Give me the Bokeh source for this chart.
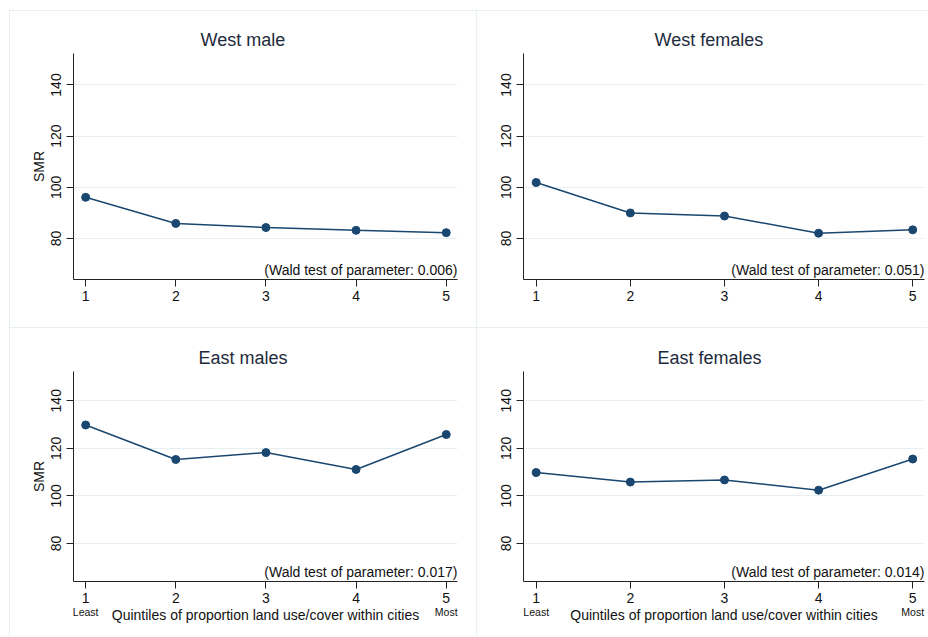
from bokeh.plotting import figure
from bokeh.layouts import column, row
from bokeh.models import Range1d, FixedTicker, Label, Spacer, LinearAxis
from bokeh.embed import file_html
from bokeh.resources import INLINE

# ---------------- data ----------------
quintiles = [1, 2, 3, 4, 5]
west_male = [96.1, 85.9, 84.3, 83.2, 82.3]
west_female = [101.9, 90.0, 88.8, 82.1, 83.4]
east_male = [129.8, 115.3, 118.2, 111.1, 125.8]
east_female = [109.8, 105.8, 106.7, 102.4, 115.5]

panel_titles = ["West male", "West females", "East males", "East females"]
wald_values = ["0.006", "0.051", "0.017", "0.014"]
y_ticks = [80, 100, 120, 140]
end_labels = ["Least", "Most"]
x_axis_title = "Quintiles of proportion land use/cover within cities"
y_axis_title = "SMR"

# ---------------- style ----------------
FONT = "Liberation Sans"
NAVY = "#1a476f"
TEXT = "#111111"
TITLE_COLOR = "#1e2b3c"
GRID = "#e8eff1"
BOX = "#e2ebed"
X_START, X_END = 0.865, 5.125
Y_START, Y_END = 64.0, 152.3


def style_axis(ax):
    ax.axis_line_color = "#222222"
    ax.axis_line_width = 1
    ax.major_tick_line_color = "#222222"
    ax.major_tick_out = 7
    ax.major_tick_in = 0
    ax.minor_tick_line_color = None
    ax.major_label_text_font = FONT
    ax.major_label_text_font_size = "14px"
    ax.major_label_text_color = TEXT
    ax.axis_label_text_font = FONT
    ax.axis_label_text_font_size = "14px"
    ax.axis_label_text_font_style = "normal"
    ax.axis_label_text_color = TEXT


def make_panel(values, title, wald, width, height, bl, br, bt, bb,
               title_offset, show_ylabel, show_xlabel):
    p = figure(width=width, height=height,
               x_range=Range1d(X_START, X_END), y_range=Range1d(Y_START, Y_END),
               output_backend="svg", toolbar_location=None,
               min_border_left=bl, min_border_right=br,
               min_border_top=bt, min_border_bottom=bb)
    p.background_fill_color = "white"
    p.border_fill_color = "white"
    p.outline_line_color = None
    p.styles = {"outline": f"1px solid {BOX}", "outline-offset": "-1px"}

    p.title.text = title
    p.title.text_font = FONT
    p.title.text_font_size = "18px"
    p.title.text_font_style = "normal"
    p.title.text_color = TITLE_COLOR
    p.title.align = "left"
    p.title.offset = title_offset
    p.title.standoff = 8

    p.line(quintiles, values, line_color=NAVY, line_width=1.5)
    p.scatter(quintiles, values, size=8, fill_color=NAVY, line_color=NAVY)

    p.xgrid.visible = False
    p.ygrid.ticker = FixedTicker(ticks=y_ticks)
    p.ygrid.grid_line_color = GRID
    p.ygrid.grid_line_width = 1

    style_axis(p.xaxis[0])
    style_axis(p.yaxis[0])

    p.xaxis.ticker = FixedTicker(ticks=quintiles)
    p.xaxis.major_label_standoff = 4
    p.yaxis.ticker = FixedTicker(ticks=y_ticks)
    p.yaxis.major_label_orientation = "vertical"
    p.yaxis.major_label_standoff = 5

    if show_ylabel:
        p.yaxis.axis_label = y_axis_title
        p.yaxis.axis_label_standoff = 2
    if show_xlabel:
        ends = [quintiles[0], quintiles[-1]]
        ax2 = LinearAxis(ticker=FixedTicker(ticks=ends),
                         major_label_overrides=dict(zip(ends, end_labels)))
        style_axis(ax2)
        ax2.axis_line_color = None
        ax2.major_tick_line_color = None
        ax2.major_tick_out = 0
        ax2.major_label_text_font_size = "10.5px"
        ax2.major_label_standoff = 0
        ax2.axis_label = x_axis_title
        ax2.axis_label_standoff = -14
        p.add_layout(ax2, "below")

    p.add_layout(Label(x=X_END, y=10, x_units="data", y_units="screen",
                       text=f"(Wald test of parameter: {wald})",
                       text_align="right", text_baseline="middle",
                       text_font=FONT, text_font_size="14px", text_color=TEXT))
    return p


p1 = make_panel(west_male, panel_titles[0], wald_values[0], 467, 317, 64, 19, 43, 48, 127, True, False)
p2 = make_panel(west_female, panel_titles[1], wald_values[1], 451, 317, 47, 3, 43, 48, 131, False, False)
p3 = make_panel(east_male, panel_titles[2], wald_values[2], 467, 309, 64, 19, 44, 55, 125, True, True)
p4 = make_panel(east_female, panel_titles[3], wald_values[3], 451, 309, 47, 3, 44, 55, 134, False, True)

layout = column(Spacer(width=927, height=10),
                row(Spacer(width=9, height=317), p1, p2),
                row(Spacer(width=9, height=309), p3, p4))

open("out.html", "w").write(file_html(layout, INLINE))
